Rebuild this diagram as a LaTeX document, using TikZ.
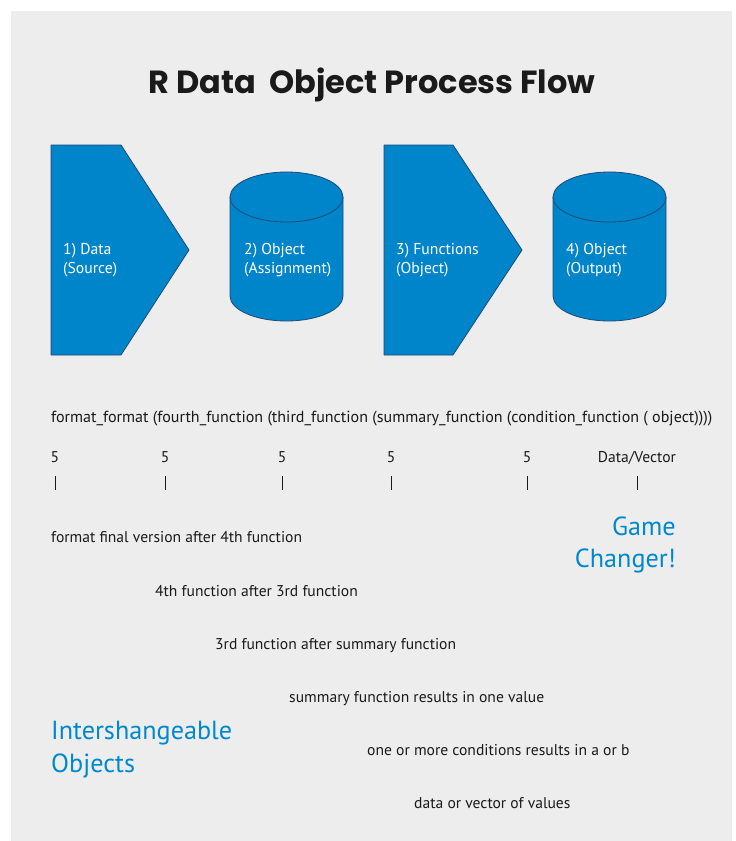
\documentclass[tikz,border=0pt]{standalone}
\usepackage{fontspec}
\setmainfont{PT Sans}
\newfontfamily\titlefont{Poppins}
\definecolor{bg}{HTML}{EDEDED}
\definecolor{shapefill}{HTML}{0085CA}
\definecolor{shapeline}{HTML}{1F4A78}
\definecolor{accent}{HTML}{0088CE}
\definecolor{ink}{HTML}{1A1A1A}
\tikzset{
  blockshape/.style={fill=shapefill, draw=shapeline, line width=0.8pt, line join=round},
  shapetext/.style={text=white, font=\fontsize{15.7}{19}\selectfont, anchor=base west, inner sep=0pt},
  bodytext/.style={text=ink, font=\fontsize{15.6}{18}\selectfont, anchor=base west, inner sep=0pt},
  marktext/.style={text=ink, font=\fontsize{15.6}{18}\selectfont, anchor=base, inner sep=0pt},
  tick/.style={draw=ink, line width=0.9pt},
  bigblue/.style={text=accent, font=\fontsize{26.2}{30}\selectfont, inner sep=0pt},
}
\begin{document}
\begin{tikzpicture}[x=1pt,y=-1pt]
\useasboundingbox (0,0) rectangle (736,841);
\fill[bg] (11,11) rectangle (732,841);

\node[text=ink, font=\fontsize{32}{38}\titlefont\bfseries, anchor=base, inner sep=0pt] (title) at (372,93) {R Data\ \ Object Process Flow};

% pentagon 1
\path[blockshape] (51,145) -- (121,145) -- (189,250) -- (121,355) -- (51,355) -- cycle;
% cylinder 1
\path[blockshape] (230,197) -- (230,296) arc[start angle=180,end angle=360,x radius=56.5pt,y radius=25pt] -- (343,197) -- cycle;
\path[blockshape] (286.5,197) ellipse [x radius=56.5pt,y radius=25pt];
% pentagon 2
\path[blockshape] (384,145) -- (453,145) -- (522,250) -- (453,355) -- (384,355) -- cycle;
% cylinder 2
\path[blockshape] (553,197) -- (553,296) arc[start angle=180,end angle=360,x radius=56.5pt,y radius=25pt] -- (666,197) -- cycle;
\path[blockshape] (609.5,197) ellipse [x radius=56.5pt,y radius=25pt];

\node[shapetext] (s1a) at (63,254) {1) Data};
\node[shapetext] (s1b) at (63,273) {(Source)};
\node[shapetext] (s2a) at (244,254) {2) Object};
\node[shapetext] (s2b) at (244,273) {(Assignment)};
\node[shapetext] (s3a) at (396,254) {3) Functions};
\node[shapetext] (s3b) at (396,273) {(Object)};
\node[shapetext] (s4a) at (566,254) {4) Object};
\node[shapetext] (s4b) at (566,273) {(Output)};

\node[bodytext, font=\fontsize{16.05}{18}\selectfont] (formula) at (51,422) {format\_format (fourth\_function (third\_function (summary\_function (condition\_function ( object))))};

\node[marktext] (m1) at (55,462) {5};
\node[marktext] (m2) at (165,462) {5};
\node[marktext] (m3) at (282,462) {5};
\node[marktext] (m4) at (391,462) {5};
\node[marktext] (m5) at (527,462) {5};
\node[marktext] (m6) at (637,462) {Data/Vector};
\foreach \x in {55,165,282,391,527,637} \path[tick] (\x,476) -- (\x,490);

\node[bodytext] (l1) at (51,542) {format final version after 4th function};
\node[bodytext] (l2) at (155,596) {4th function after 3rd function};
\node[bodytext] (l3) at (215,649) {3rd function after summary function};
\node[bodytext] (l4) at (289,702) {summary function results in one value};
\node[bodytext] (l5) at (367,755) {one or more conditions results in a or b};
\node[bodytext] (l6) at (414,808) {data or vector of values};

\node[bigblue, anchor=base east] (gc1) at (676,535) {Game};
\node[bigblue, anchor=base east] (gc2) at (676,567) {Changer!};
\node[bigblue, anchor=base west] (io1) at (51,739) {Intershangeable};
\node[bigblue, anchor=base west] (io2) at (51,772) {Objects};
\end{tikzpicture}
\end{document}
